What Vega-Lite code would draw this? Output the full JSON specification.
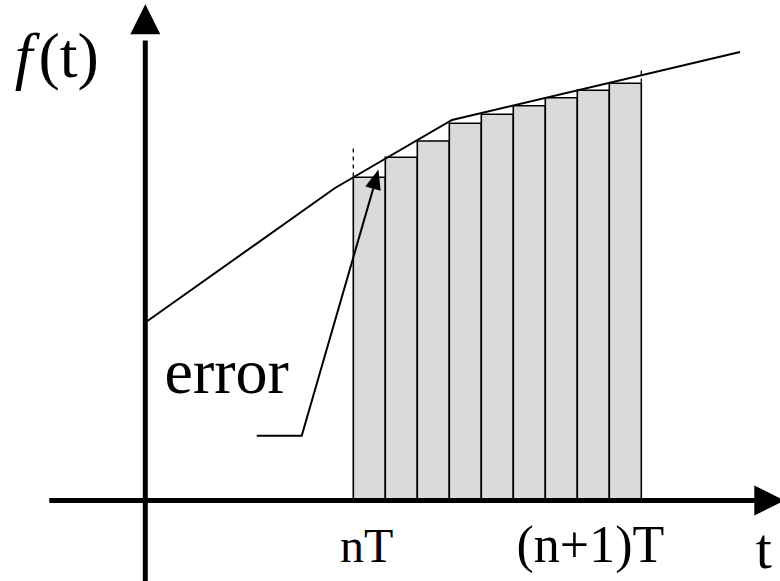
{
  "$schema": "https://vega.github.io/schema/vega-lite/v6.json",
  "width": 780,
  "height": 581,
  "padding": 0,
  "autosize": {"type": "none"},
  "background": "white",
  "config": {"view": {"stroke": null}},
  "datasets": {
    "samples": [
      {"t": 6.5, "t2": 7.5, "f": 32.32, "f2": 0},
      {"t": 7.5, "t2": 8.5, "f": 34.32, "f2": 0},
      {"t": 8.5, "t2": 9.5, "f": 35.95, "f2": 0},
      {"t": 9.5, "t2": 10.5, "f": 37.72, "f2": 0},
      {"t": 10.5, "t2": 11.5, "f": 38.62, "f2": 0},
      {"t": 11.5, "t2": 12.5, "f": 39.48, "f2": 0},
      {"t": 12.5, "t2": 13.5, "f": 40.28, "f2": 0},
      {"t": 13.5, "t2": 14.5, "f": 41.02, "f2": 0},
      {"t": 14.5, "t2": 15.5, "f": 41.72, "f2": 0}
    ],
    "signal": [
      {"t": 0, "f": 17.8},
      {"t": 5.928, "f": 31.25},
      {"t": 9.584, "f": 38.05},
      {"t": 18.584, "f": 44.85}
    ],
    "pointer": [
      {"i": 1, "t": 3.481, "f": 6.48},
      {"i": 2, "t": 4.888, "f": 6.48},
      {"i": 3, "t": 7.122, "f": 31.19}
    ],
    "ticks": [
      {"t": 6.5, "f": 32.4, "f2": 35.35},
      {"t": 15.5, "f": 41.8, "f2": 43.3}
    ],
    "vaxis": [{"t": 0, "f": -8.05, "f2": 46.0}],
    "haxis": [{"t": -3.0, "t2": 19.1, "f": 0}],
    "uptip": [{"t": 0, "f": 48.12}],
    "righttip": [{"t": 19.5, "f": 0}],
    "pointertip": [{"t": 7.2, "f": 32.15}],
    "slotlabel": [{"text": "nT", "t": 6.085, "f": -6.12}],
    "nextlabel": [{"text": "(n+1)T", "t": 11.6, "f": -6.12}],
    "biglabels": [
      {"text": "error", "t": 0.6, "f": 10.75},
      {"text": "(t)", "t": -3.337, "f": 42.35}
    ],
    "timelabel": [{"text": "t", "t": 19.08, "f": -6.7}],
    "fname": [{"text": "f", "t": -4.081, "f": 42.35}]
  },
  "encoding": {
    "x": {"field": "t", "type": "quantitative", "scale": {"domain": [-4.540625, 19.834375], "nice": false, "zero": false}, "axis": null},
    "y": {"field": "f", "type": "quantitative", "scale": {"domain": [-8.05, 50.05], "nice": false, "zero": false}, "axis": null}
  },
  "layer": [
    {
      "data": {"name": "samples"},
      "mark": {"type": "rect", "fill": "#dadada", "stroke": "black", "strokeWidth": 1.6},
      "encoding": {"x2": {"field": "t2"}, "y2": {"field": "f2"}}
    },
    {
      "data": {"name": "ticks"},
      "mark": {"type": "rule", "stroke": "black", "strokeWidth": 1.3, "strokeDash": [4, 4]},
      "encoding": {"y2": {"field": "f2"}}
    },
    {
      "data": {"name": "signal"},
      "mark": {"type": "line", "stroke": "black", "strokeWidth": 2},
      "encoding": {}
    },
    {
      "data": {"name": "pointer"},
      "mark": {"type": "line", "stroke": "black", "strokeWidth": 2},
      "encoding": {"order": {"field": "i", "type": "quantitative"}}
    },
    {
      "data": {"name": "pointertip"},
      "mark": {"type": "point", "shape": "M0,-1L0.8,1L-0.8,1Z", "size": 400, "angle": 16, "filled": true, "fill": "black", "strokeWidth": 0, "opacity": 1},
      "encoding": {}
    },
    {
      "data": {"name": "vaxis"},
      "mark": {"type": "rule", "stroke": "black", "strokeWidth": 5},
      "encoding": {"y2": {"field": "f2"}}
    },
    {
      "data": {"name": "haxis"},
      "mark": {"type": "rule", "stroke": "black", "strokeWidth": 5},
      "encoding": {"x2": {"field": "t2"}}
    },
    {
      "data": {"name": "uptip"},
      "mark": {"type": "point", "shape": "M0,-1L1,1L-1,1Z", "size": 900, "filled": true, "fill": "black", "strokeWidth": 0, "opacity": 1},
      "encoding": {}
    },
    {
      "data": {"name": "righttip"},
      "mark": {"type": "point", "shape": "M1,0L-1,-1L-1,1Z", "size": 900, "filled": true, "fill": "black", "strokeWidth": 0, "opacity": 1},
      "encoding": {}
    },
    {
      "data": {"name": "slotlabel"},
      "mark": {"type": "text", "font": "Liberation Serif", "fontSize": 48, "align": "left", "baseline": "alphabetic", "fill": "black"},
      "encoding": {"text": {"field": "text"}}
    },
    {
      "data": {"name": "nextlabel"},
      "mark": {"type": "text", "font": "Liberation Serif", "fontSize": 52, "align": "left", "baseline": "alphabetic", "fill": "black"},
      "encoding": {"text": {"field": "text"}}
    },
    {
      "data": {"name": "biglabels"},
      "mark": {"type": "text", "font": "Liberation Serif", "fontSize": 64, "align": "left", "baseline": "alphabetic", "fill": "black"},
      "encoding": {"text": {"field": "text"}}
    },
    {
      "data": {"name": "timelabel"},
      "mark": {"type": "text", "font": "Liberation Serif", "fontSize": 58, "align": "left", "baseline": "alphabetic", "fill": "black"},
      "encoding": {"text": {"field": "text"}}
    },
    {
      "data": {"name": "fname"},
      "mark": {"type": "text", "font": "Liberation Serif", "fontSize": 64, "fontStyle": "italic", "align": "left", "baseline": "alphabetic", "fill": "black"},
      "encoding": {"text": {"field": "text"}}
    }
  ]
}
